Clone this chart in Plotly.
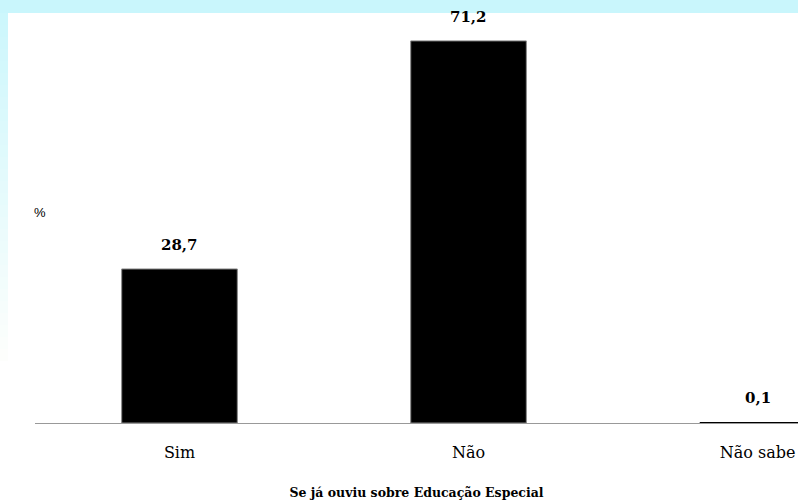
import plotly.graph_objects as go

categories = ["Sim", "Não", "Não sabe"]
values = [28.7, 71.2, 0.1]
labels = ["28,7", "71,2", "0,1"]
x_title = "Se já ouviu sobre Educação Especial"
y_label = "%"

W, H = 798, 500
serif = "DejaVu Serif"

fig = go.Figure()
fig.add_trace(go.Bar(
    x=categories, y=values, width=0.4,
    marker=dict(color="black", line=dict(color="#888888", width=[1, 1, 0])),
    hoverinfo="skip",
))

annotations = []
for c, v, lab in zip(categories, values, labels):
    annotations.append(dict(x=c, y=v, text=f"<b>{lab}</b>", showarrow=False,
                            xanchor="center", yanchor="middle", yshift=24,
                            font=dict(family=serif, size=15, color="black")))
annotations.append(dict(text=y_label, xref="paper", yref="paper", x=-3 / 763, y=1 - (212 - 13) / 410,
                        xanchor="left", yanchor="middle", showarrow=False,
                        font=dict(family="Liberation Sans, Arial, sans-serif", size=13, color="black")))

shapes = []
n = 30
for i in range(n):
    t = i / (n - 1)
    r = int(0xcd + (0xff - 0xcd) * t)
    g = int(0xf7 + (0xff - 0xf7) * t)
    col = f"rgb({r},{g},252)" if t < 1 else "white"
    y0 = 13 + i * 12
    shapes.append(dict(type="rect", xref="paper", yref="paper", layer="below",
                       x0=-35 / 763, x1=-27 / 763,
                       y0=1 - (y0 + 12 - 13) / 410, y1=1 - (y0 - 13) / 410,
                       line=dict(width=0), fillcolor=col))
shapes.append(dict(type="rect", xref="paper", yref="paper", layer="below",
                   x0=-35 / 763, x1=1, y0=1, y1=1 + 13 / 410, line=dict(width=0),
                   fillcolor="#c9f6fc"))

fig.update_layout(
    width=W, height=H,
    margin=dict(l=35, r=0, t=13, b=77),
    paper_bgcolor="white", plot_bgcolor="white",
    showlegend=False,
    shapes=shapes, annotations=annotations,
    xaxis=dict(range=[-0.5, 2.14], showgrid=False, showline=True, linecolor="#999999",
               linewidth=1, ticks="", ticklabelstandoff=15,
               tickfont=dict(family=serif, size=16, color="black"),
               title=dict(text=f"<b>{x_title}</b>", font=dict(family=serif, size=12.5, color="black"),
                          standoff=27)),
    yaxis=dict(range=[0, 76.4], showgrid=False, showline=False, showticklabels=False,
               zeroline=False, ticks=""),
)

fig.write_html("out.html")
